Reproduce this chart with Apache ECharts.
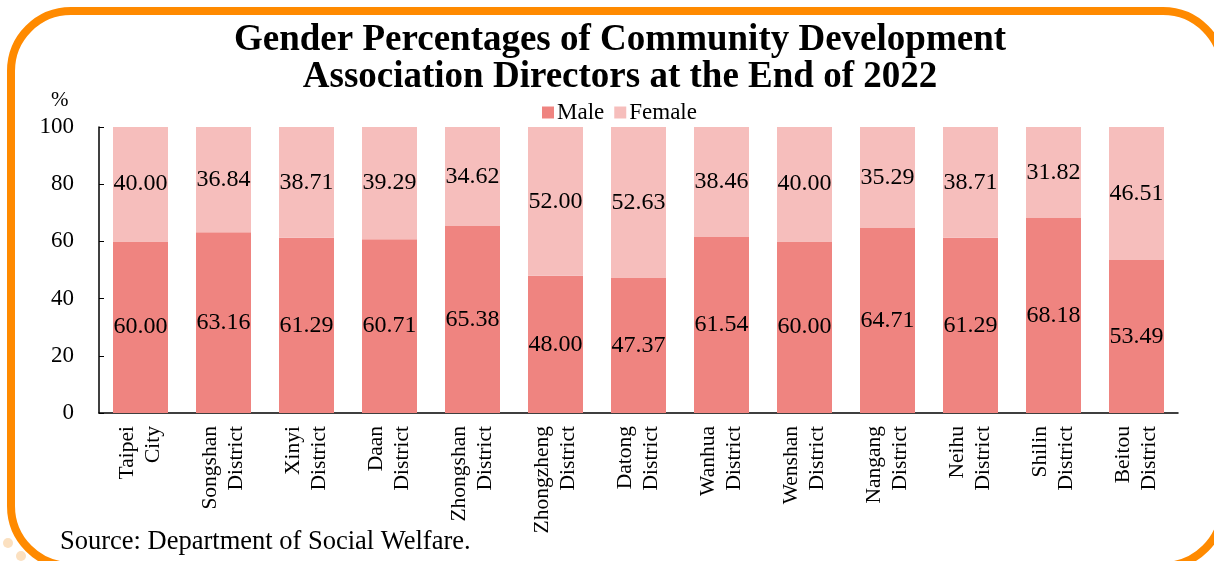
<!DOCTYPE html>
<html>
<head>
<meta charset="utf-8">
<title>Gender Percentages of Community Development Association Directors</title>
<script src="https://cdn.jsdelivr.net/npm/echarts@6/dist/echarts.min.js"></script>
<style>
  html, body { margin: 0; padding: 0; background: #fff; }
  #main { width: 1214px; height: 561px; }
</style>
</head>
<body>
<div id="main"></div>
<script>
// categories (two-line names)
var districts = ['Taipei\nCity', 'Songshan\nDistrict', 'Xinyi\nDistrict', 'Daan\nDistrict',
  'Zhongshan\nDistrict', 'Zhongzheng\nDistrict', 'Datong\nDistrict', 'Wanhua\nDistrict',
  'Wenshan\nDistrict', 'Nangang\nDistrict', 'Neihu\nDistrict', 'Shilin\nDistrict', 'Beitou\nDistrict'];
var male = [60.00, 63.16, 61.29, 60.71, 65.38, 48.00, 47.37, 61.54, 60.00, 64.71, 61.29, 68.18, 53.49];
var female = [40.00, 36.84, 38.71, 39.29, 34.62, 52.00, 52.63, 38.46, 40.00, 35.29, 38.71, 31.82, 46.51];

var serif = '"Liberation Serif", "Times New Roman", serif';

var myChart = echarts.init(document.getElementById('main'));

var labelStyle = {
    show: true,
    position: 'inside',
    color: '#000',
    fontFamily: serif,
    fontSize: 24,
    formatter: function (p) { return p.value.toFixed(2); }
};

var option = {
    backgroundColor: '#fff',
    textStyle: { fontFamily: serif },
    title: {
        text: 'Gender Percentages of Community Development\nAssociation Directors at the End of 2022',
        left: 615,
        top: 17,
        textAlign: 'center',
        textStyle: {
            fontFamily: serif,
            fontSize: 37,
            fontWeight: 'bold',
            color: '#000',
            lineHeight: 37
        }
    },
    legend: {
        data: ['Male', 'Female'],
        left: 537,
        top: 96,
        itemWidth: 12,
        itemHeight: 12,
        itemGap: 10,
        icon: 'rect',
        textStyle: { fontFamily: serif, fontSize: 23, color: '#000', padding: [0, 0, 0, -2] }
    },
    grid: {
        left: 99,
        right: 36,
        top: 127,
        bottom: 148
    },
    xAxis: {
        type: 'category',
        data: districts,
        axisLine: { lineStyle: { color: '#000', width: 1.5 } },
        axisTick: { inside: true, length: 5, lineStyle: { color: '#000' } },
        axisLabel: {
            rotate: 90,
            interval: 0,
            margin: 13,
            color: '#000',
            fontFamily: serif,
            fontSize: 21.5,
            lineHeight: 26
        }
    },
    yAxis: {
        type: 'value',
        min: 0,
        max: 100,
        interval: 20,
        splitLine: { show: false },
        axisLine: { show: true, lineStyle: { color: '#000', width: 1.5 } },
        axisTick: { show: true, inside: true, length: 5, lineStyle: { color: '#000' } },
        axisLabel: {
            margin: 25,
            color: '#000',
            fontFamily: serif,
            fontSize: 23
        }
    },
    series: [
        {
            name: 'Male',
            type: 'bar',
            stack: 'total',
            barWidth: 55,
            data: male,
            itemStyle: { color: '#EF8480' },
            label: labelStyle
        },
        {
            name: 'Female',
            type: 'bar',
            stack: 'total',
            barWidth: 55,
            data: female,
            itemStyle: { color: '#F6BEBC' },
            label: labelStyle
        }
    ],
    graphic: [
        {
            type: 'rect',
            silent: true,
            z: -1,
            shape: { x: 11, y: 11, width: 1212, height: 555, r: 60 },
            style: { fill: 'none', stroke: '#FF8A00', lineWidth: 8 }
        },
        { type: 'circle', silent: true, shape: { cx: 8, cy: 543, r: 5 }, style: { fill: '#FBE0C0' } },
        { type: 'circle', silent: true, shape: { cx: 21, cy: 556, r: 5 }, style: { fill: '#FBE0C0' } },
        {
            type: 'text',
            left: 51,
            top: 90,
            style: { text: '%', fontFamily: serif, fontSize: 21, fill: '#000' }
        },
        {
            type: 'text',
            left: 60,
            top: 529,
            style: { text: 'Source: Department of Social Welfare.', fontFamily: serif, fontSize: 26.5, fill: '#000' }
        }
    ]
};

myChart.setOption(option);
</script>
</body>
</html>
